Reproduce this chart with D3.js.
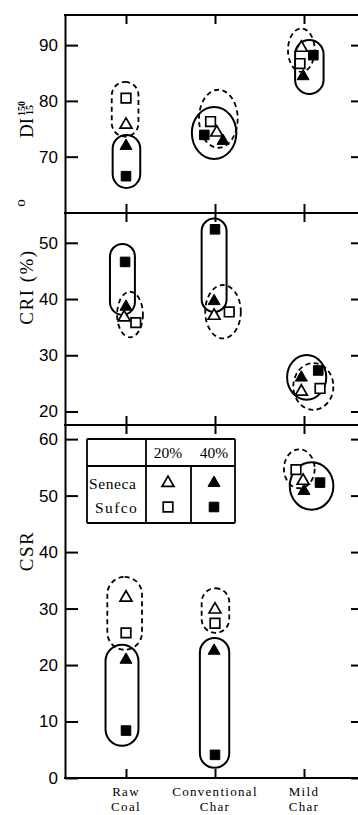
<!DOCTYPE html>
<html>
<head>
<meta charset="utf-8">
<script src="https://cdn.jsdelivr.net/npm/d3@7"></script>
<style>
  body { margin: 0; background: #fff; }
  text { fill: #000; }
</style>
</head>
<body>
<div id="chart"></div>
<script>
// categories along x, four marker series (coal type x blend level)
const categories = ["Raw Coal", "Conventional Char", "Mild Char"];
const categoryLines = [["Raw", "Coal"], ["Conventional", "Char"], ["Mild", "Char"]];
const seriesNames = ["Seneca 20%", "Seneca 40%", "Sufco 20%", "Sufco 40%"];

// values, one row per series, one column per category
const diValues = [
  [75.9, 74.5, 89.7],
  [72.1, 73.0, 84.6],
  [80.5, 76.3, 86.7],
  [66.5, 73.9, 88.2]
];
const criValues = [
  [36.9, 37.2, 23.7],
  [38.8, 39.8, 26.2],
  [35.8, 37.7, 24.1],
  [46.6, 52.4, 27.3]
];
const csrValues = [
  [32.1, 30.0, 52.8],
  [21.1, 22.7, 51.0],
  [25.7, 27.4, 54.6],
  [8.4, 4.1, 52.3]
];

// small sideways shifts of the markers, in category units
const diShift = [
  [0, 0.02, -0.03],
  [0, 0.09, -0.01],
  [0, -0.05, -0.045],
  [0, -0.12, 0.105]
];
const criShift = [
  [-0.02, -0.01, -0.03],
  [0, -0.01, -0.03],
  [0.11, 0.16, 0.18],
  [-0.01, 0, 0.16]
];
const csrShift = [
  [0, 0, -0.01],
  [0, -0.01, 0],
  [0, 0, -0.09],
  [0, 0, 0.18]
];

// the loops drawn round each group (dashed = 20%, solid = 40%)
const diGroups = [
  { cat: 0, dashed: true,  shape: "pill",    x: [-0.16, 0.14], y: [73.6, 83.4] },
  { cat: 0, dashed: false, shape: "pill",    x: [-0.15, 0.16], y: [64.4, 73.9] },
  { cat: 1, dashed: true,  shape: "ellipse", x: [-0.18, 0.255], y: [71.6, 82.0] },
  { cat: 1, dashed: false, shape: "ellipse", x: [-0.26, 0.24], y: [69.6, 78.9] },
  { cat: 2, dashed: true,  shape: "ellipse", x: [-0.18, 0.12], y: [85.2, 93.0] },
  { cat: 2, dashed: false, shape: "pill",    x: [-0.10, 0.22], y: [81.25, 90.9] }
];
const criGroups = [
  { cat: 0, dashed: false, shape: "pill",    x: [-0.18, 0.10], y: [37.2, 49.8] },
  { cat: 0, dashed: true,  shape: "ellipse", x: [-0.10, 0.19], y: [33.2, 41.3] },
  { cat: 1, dashed: false, shape: "pill",    x: [-0.15, 0.13], y: [37.7, 54.3] },
  { cat: 1, dashed: true,  shape: "ellipse", x: [-0.11, 0.29], y: [33.0, 42.5] },
  { cat: 2, dashed: false, shape: "ellipse", x: [-0.19, 0.25], y: [22.1, 30.05] },
  { cat: 2, dashed: true,  shape: "ellipse", x: [-0.12, 0.33], y: [20.3, 28.6] }
];
const csrGroups = [
  { cat: 0, dashed: true,  shape: "pill",    x: [-0.21, 0.18], y: [22.7, 35.6] },
  { cat: 0, dashed: false, shape: "pill",    x: [-0.23, 0.14], y: [5.7, 23.6] },
  { cat: 1, dashed: true,  shape: "pill",    x: [-0.15, 0.16], y: [25.7, 33.6] },
  { cat: 1, dashed: false, shape: "pill",    x: [-0.17, 0.16], y: [1.8, 24.8] },
  { cat: 2, dashed: true,  shape: "ellipse", x: [-0.225, 0.12], y: [51.3, 58.2] },
  { cat: 2, dashed: false, shape: "ellipse", x: [-0.16, 0.33], y: [47.5, 55.9] }
];

const diTicks = [70, 80, 90];
const criTicks = [20, 30, 40, 50];
const csrTicks = [0, 10, 20, 30, 40, 50, 60];

const width = 358;
const height = 815;
const left = 65;
const right = 361;

const svg = d3.select("#chart").append("svg")
  .attr("width", width)
  .attr("height", height);

const x = d3.scaleLinear().domain([0, 2]).range([126, 304]);

const panels = [
  { top: 15, bottom: 213, domain: [59.9, 95.4], ticks: diTicks, values: diValues, shift: diShift, groups: diGroups },
  { top: 213, bottom: 425, domain: [17.6, 55.3], ticks: criTicks, values: criValues, shift: criShift, groups: criGroups },
  { top: 425, bottom: 778, domain: [0, 62.5], ticks: csrTicks, values: csrValues, shift: csrShift, groups: csrGroups }
];

const triangle = d3.symbol().type(d3.symbolTriangle).size(62);
const square = d3.symbol().type(d3.symbolSquare).size(92);

function marker(g, s, px, py) {
  const isTri = s < 2;
  const filled = s % 2 === 1;
  g.append("path")
    .attr("d", isTri ? triangle() : square())
    .attr("transform", `translate(${px},${py + (isTri ? 1 : 0)})`)
    .attr("fill", filled ? "#000" : "#fff")
    .attr("stroke", "#000")
    .attr("stroke-width", filled ? 1 : 1.7);
}

panels.forEach(p => {
  const y = d3.scaleLinear().domain(p.domain).range([p.bottom, p.top]);
  const g = svg.append("g");

  // loops round the groups
  p.groups.forEach(d => {
    const x0 = x(d.cat + d.x[0]), x1 = x(d.cat + d.x[1]);
    const y0 = y(d.y[1]), y1 = y(d.y[0]);
    let el;
    if (d.shape === "pill") {
      const w = x1 - x0, h = y1 - y0;
      el = g.append("rect")
        .attr("x", x0).attr("y", y0)
        .attr("width", w).attr("height", h)
        .attr("rx", Math.min(w, h) / 2);
    } else {
      el = g.append("ellipse")
        .attr("cx", (x0 + x1) / 2).attr("cy", (y0 + y1) / 2)
        .attr("rx", (x1 - x0) / 2).attr("ry", (y1 - y0) / 2);
    }
    el.attr("fill", "none")
      .attr("stroke", "#000")
      .attr("stroke-width", d.dashed ? 1.8 : 2)
      .attr("stroke-dasharray", d.dashed ? "5,3.5" : null);
  });

  // markers
  p.values.forEach((row, s) => {
    row.forEach((v, c) => {
      marker(g, s, x(c + p.shift[s][c]), y(v));
    });
  });

  // left axis
  const ga = svg.append("g")
    .attr("transform", `translate(${left},0)`)
    .call(d3.axisLeft(y).tickValues(p.ticks).tickSize(-13).tickSizeOuter(0).tickPadding(7));
  ga.select(".domain").attr("stroke-width", 2);
  ga.selectAll(".tick line").attr("stroke-width", 2);
  ga.selectAll(".tick text")
    .attr("font-family", "Liberation Sans, Arial, sans-serif")
    .attr("font-size", 17)
    .attr("fill", "#000");

  // right axis (the frame itself lies past the edge)
  const gr = svg.append("g")
    .attr("transform", `translate(${right},0)`)
    .call(d3.axisRight(y).tickValues(p.ticks).tickSize(-10).tickSizeOuter(0).tickFormat(""));
  gr.selectAll(".tick line").attr("stroke-width", 2);

  // category ticks at top and bottom of each panel
  const gt = svg.append("g")
    .attr("transform", `translate(0,${p.top})`)
    .call(d3.axisTop(x).tickValues([0, 1, 2]).tickSize(-9).tickFormat(""));
  gt.select(".domain").remove();
  gt.selectAll(".tick line").attr("stroke-width", 2);
  const gb = svg.append("g")
    .attr("transform", `translate(0,${p.bottom})`)
    .call(d3.axisBottom(x).tickValues([0, 1, 2]).tickSize(-9).tickFormat(""));
  gb.select(".domain").remove();
  gb.selectAll(".tick line").attr("stroke-width", 2);

  // horizontal frame lines
  [p.top, p.bottom].forEach(yy => {
    svg.append("line")
      .attr("x1", left - 1).attr("x2", right)
      .attr("y1", yy).attr("y2", yy)
      .attr("stroke", "#000").attr("stroke-width", 2);
  });
});

// y-axis titles
const serif = "Liberation Serif, Times New Roman, serif";
svg.append("text")
  .attr("transform", "translate(33,138) rotate(-90)")
  .attr("font-family", serif)
  .attr("font-size", 19)
  .text("DI");
svg.append("text")
  .attr("transform", "translate(25,116) rotate(-90)")
  .attr("font-family", serif).attr("font-size", 10).attr("font-weight", "bold")
  .text("150");
svg.append("text")
  .attr("transform", "translate(33,115) rotate(-90)")
  .attr("font-family", serif).attr("font-size", 10).attr("font-weight", "bold")
  .text("15");

svg.append("text")
  .attr("transform", "translate(33,287) rotate(-90)")
  .attr("text-anchor", "middle")
  .attr("font-family", serif)
  .attr("font-size", 19)
  .attr("letter-spacing", 1.5)
  .text("CRI (%)");
svg.append("text")
  .attr("transform", "translate(25,203) rotate(-90)")
  .attr("text-anchor", "middle")
  .attr("font-family", serif)
  .attr("font-size", 15)
  .text("o");

svg.append("text")
  .attr("transform", "translate(33,551) rotate(-90)")
  .attr("text-anchor", "middle")
  .attr("font-family", serif)
  .attr("font-size", 19)
  .attr("letter-spacing", 1.5)
  .text("CSR");

// category labels, two lines each
categoryLines.forEach((lines, i) => {
  lines.forEach((ln, k) => {
    svg.append("text")
      .attr("x", x(i))
      .attr("y", 796 + k * 14.5)
      .attr("text-anchor", "middle")
      .attr("font-family", serif)
      .attr("font-size", 13)
      .attr("letter-spacing", 1.3)
      .text(ln);
  });
});

// legend table inside the CSR panel
const lg = svg.append("g").attr("transform", "translate(87,439)");
const lgW = 148, lgH = 84, headH = 27, col1 = 59, col2 = 104;
const frame = [
  [0, 0, lgW, 0], [0, headH, lgW, headH], [0, lgH, lgW, lgH],
  [0, 0, 0, lgH], [lgW, 0, lgW, lgH], [col1, 0, col1, lgH], [col2, headH, col2, lgH]
];
frame.forEach(([a, b, c, d]) => {
  lg.append("line")
    .attr("x1", a).attr("y1", b).attr("x2", c).attr("y2", d)
    .attr("stroke", "#000").attr("stroke-width", 1.8);
});
[["20%", 81], ["40%", 127]].forEach(([s, cx]) => {
  lg.append("text")
    .attr("x", cx).attr("y", 19)
    .attr("text-anchor", "middle")
    .attr("font-family", serif).attr("font-size", 15.5)
    .text(s);
});
lg.append("text").attr("x", 2).attr("y", 50)
  .attr("font-family", serif).attr("font-size", 15.5).attr("letter-spacing", 0.6)
  .text("Seneca");
lg.append("text").attr("x", 8).attr("y", 74)
  .attr("font-family", serif).attr("font-size", 15.5).attr("letter-spacing", 1.4)
  .text("Sufco");
seriesNames.forEach((name, s) => {
  const cx = s % 2 === 0 ? 81 : 127;
  const cy = s < 2 ? 43 : 68;
  marker(lg, s, cx, cy);
});
</script>
</body>
</html>
